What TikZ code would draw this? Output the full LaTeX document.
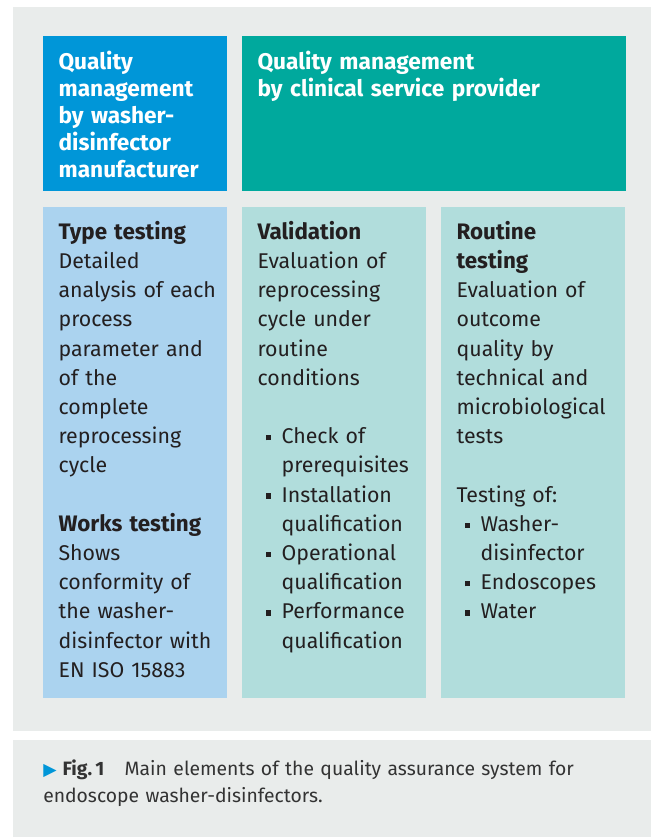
\documentclass[tikz,border=0pt]{standalone}
\usepackage{fontspec}
\setmainfont{Fira Sans}
\newfontfamily\symfont{DejaVu Sans}
\usetikzlibrary{positioning}
\definecolor{panelgrey}{HTML}{E9ECEB}
\definecolor{makerblue}{HTML}{0096D8}
\definecolor{clinicteal}{HTML}{00A99D}
\definecolor{lightblue}{HTML}{ABD3EF}
\definecolor{lightteal}{HTML}{B1DDDC}
\definecolor{bodytext}{HTML}{231F20}
\definecolor{captext}{HTML}{333333}
\hyphenpenalty=10000
\newcommand{\sqb}{\makebox[18pt][l]{\hspace*{6pt}\rule[2.5pt]{4pt}{4pt}}}
\newcommand{\ind}{\hspace*{18pt}}
\newcommand{\boxhead}[1]{{\fontsize{16.8pt}{21.9pt}\selectfont\bfseries #1}}
\tikzset{
    panel/.style = {rectangle, fill=panelgrey, inner sep=0pt, anchor=north west},
    topbox/.style = {rectangle, anchor=north west, inner xsep=11.5pt, inner ysep=0pt, align=left,
        text height=24.75pt, text depth=91.5pt, text=white,
        font=\fontsize{17pt}{20.25pt}\selectfont\bfseries},
    lowbox/.style = {rectangle, anchor=north west, inner xsep=11.5pt, inner ysep=0pt, align=left,
        text width=115pt, text height=24pt, text depth=344.25pt, text=bodytext,
        font=\fontsize{16pt}{21.9pt}\selectfont},
    capbox/.style = {panel, inner xsep=22.5pt, text height=26.25pt, text depth=46.5pt, align=left,
        text width=433.5pt, text=captext, font=\fontsize{14.5pt}{20.25pt}\selectfont}
}
\begin{document}
\begin{tikzpicture}[x=0.75pt,y=-0.75pt]
\useasboundingbox (0,0) rectangle (651,837);
\node[panel, minimum width=478.5pt, minimum height=543pt] at (13,7) (figpanel) {};
%
\node[topbox, fill=makerblue, text width=115pt] at (43,36) (maker) {Quality\\ management\\ by washer-\\ disinfector\\ manufacturer};
\node[topbox, fill=clinicteal, text width=265pt] at (242,36) (clinic) {Quality management\\ by clinical service provider};
%
\node[lowbox, fill=lightblue] at (43,207) (typetest) {\boxhead{Type~testing}\\
Detailed\\
analysis~of~each\\
process\\
parameter~and\\
of~the\\
complete\\
reprocessing\\
cycle\\[21.9pt]
\boxhead{Works~testing}\\
Shows\\
conformity~of\\
the washer-\\
disinfector~with\\
EN~ISO~15883};
\node[lowbox, fill=lightteal] at (242,207) (valid) {\boxhead{Validation}\\
Evaluation~of\\
reprocessing\\
cycle~under\\
routine\\
conditions\\[21.9pt]
\sqb Check~of\\
\ind prerequisites\\
\sqb Installation\\
\ind qualification\\
\sqb Operational\\
\ind qualification\\
\sqb Performance\\
\ind qualification};
\node[lowbox, fill=lightteal] at (441,207) (routine) {\boxhead{Routine}\\
\boxhead{testing}\\
Evaluation~of\\
outcome\\
quality~by\\
technical~and\\
microbiological\\
tests\\[21.9pt]
Testing~of:\\
\sqb Washer-\\
\ind disinfector\\
\sqb Endoscopes\\
\sqb Water};
%
\node[capbox, minimum width=478.5pt] at (13,740) (caption) {{\color{makerblue}\symfont\fontsize{13pt}{13pt}\selectfont ▶}\hspace{4.5pt}\textbf{Fig.\,1}\hspace{1.05em}Main elements of the quality assurance system for\\ endoscope washer-disinfectors.};
\end{tikzpicture}
\end{document}
